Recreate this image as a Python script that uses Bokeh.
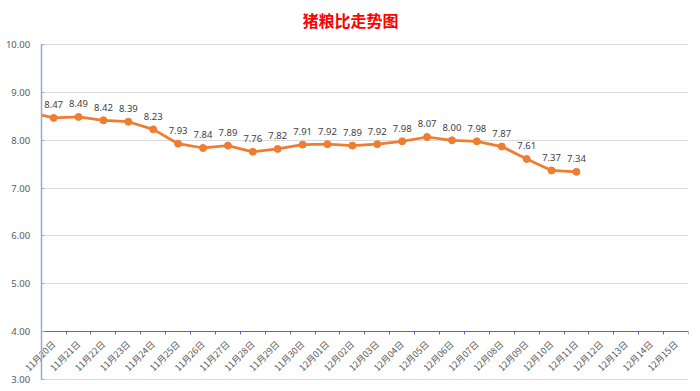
import math
from bokeh.plotting import figure
from bokeh.models import Range1d, FixedTicker, ColumnDataSource, BoxAnnotation
from bokeh.core.properties import value
from bokeh.embed import file_html
from bokeh.resources import INLINE

# ---- data ----
categories = ["11月20日", "11月21日", "11月22日", "11月23日", "11月24日", "11月25日",
              "11月26日", "11月27日", "11月28日", "11月29日", "11月30日", "12月01日",
              "12月02日", "12月03日", "12月04日", "12月05日", "12月06日", "12月07日",
              "12月08日", "12月09日", "12月10日", "12月11日", "12月12日", "12月13日",
              "12月14日", "12月15日"]
prev_value = 8.59   # 11月19日, outside the axis range (only the line segment shows)
ratios = [8.47, 8.49, 8.42, 8.39, 8.23, 7.93, 7.84, 7.89, 7.76, 7.82, 7.91,
          7.92, 7.89, 7.92, 7.98, 8.07, 8.00, 7.98, 7.87, 7.61, 7.37, 7.34]
y_ticks = [3, 4, 5, 6, 7, 8, 9, 10]
y_tick_labels = ["3.00", "4.00", "5.00", "6.00", "7.00", "8.00", "9.00", "10.00"]
x_axis_cross = 4
title_text = "猪粮比走势图"

n_cat = len(categories)
centers = [i + 0.5 for i in range(n_cat)]
boundaries = list(range(n_cat + 1))

line_x = [-0.5] + centers[:len(ratios)]
line_y = [prev_value] + ratios
pts = ColumnDataSource(dict(x=centers[:len(ratios)], y=ratios,
                            lbl=["%.2f" % v for v in ratios]))

# frame spans (almost) the full figure so labels outside the value range are not clipped
W, H = 700, 391
left_px, right_px = 40.7, 688.3
top_px, bottom_px = 44.3, 378.7
frame_top, frame_bottom = 36, 387
cat_px = (right_px - left_px) / n_cat
val_px = (bottom_px - top_px) / (y_ticks[-1] - y_ticks[0])
x_start = -left_px / cat_px
y_end = y_ticks[-1] + (top_px - frame_top) / val_px
y_start = y_ticks[0] - (frame_bottom - bottom_px) / val_px

p = figure(width=W, height=H, output_backend="svg", toolbar_location=None,
           x_range=Range1d(x_start, n_cat), y_range=Range1d(y_start, y_end),
           min_border_left=0, min_border_right=W - 688, min_border_top=frame_top,
           min_border_bottom=H - frame_bottom)
p.outline_line_color = None
p.background_fill_color = "white"
p.border_fill_color = "white"

p.title.text = title_text
p.title.align = "left"
p.title.offset = 302
p.title.standoff = 10
p.title.text_font = "Noto Sans CJK SC"
p.title.text_font_size = "16px"
p.title.text_font_style = "bold"
p.title.text_color = "#FF0000"

# y axis at category start
yax = p.yaxis[0]
yax.fixed_location = 0
yax.bounds = (y_ticks[0], y_ticks[-1])
yax.ticker = FixedTicker(ticks=y_ticks, minor_ticks=[])
yax.major_label_overrides = {t: l for t, l in zip(y_ticks, y_tick_labels)}
yax.axis_line_color = "#8FAADC"
yax.axis_line_width = 1.5
yax.major_tick_line_color = "#8FAADC"
yax.major_tick_in = 3
yax.major_tick_out = 0
yax.minor_tick_line_color = None
yax.major_label_text_font = "Noto Sans"
yax.major_label_text_font_size = "9.5px"
yax.major_label_text_color = "#595959"
yax.major_label_standoff = 11

# x axis crossing at 4.00
xax = p.xaxis[0]
xax.fixed_location = x_axis_cross
xax.bounds = (0, n_cat)
xax.ticker = FixedTicker(ticks=centers, minor_ticks=boundaries)
xax.major_label_overrides = {c: l for c, l in zip(centers, categories)}
xax.major_label_orientation = math.pi / 4
xax.major_label_text_font = "Noto Sans CJK SC"
xax.major_label_text_font_size = "9px"
xax.major_label_text_color = "#595959"
xax.major_label_standoff = 5
xax.axis_line_color = "#4472C4"
xax.axis_line_width = 1
xax.major_tick_line_color = None
xax.minor_tick_line_color = "#4472C4"
xax.minor_tick_in = 0
xax.minor_tick_out = 3

p.xgrid.grid_line_color = None
p.ygrid.ticker = FixedTicker(ticks=y_ticks)
p.ygrid.bounds = (0, n_cat)
p.ygrid.grid_line_color = "#D9D9D9"
p.ygrid.grid_line_width = 1

p.line(line_x, line_y, line_color="#ED7D31", line_width=2.75)
p.scatter("x", "y", source=pts, size=7, fill_color="#ED7D31", line_color="#ED7D31")
p.text("x", "y", text="lbl", source=pts, text_align="center", text_baseline="middle",
       y_offset=-13, text_font=value("Noto Sans"), text_font_size="9.5px",
       text_color="#404040")
# hide the part of the series left of the plot area
p.add_layout(BoxAnnotation(right=0, fill_color="white", fill_alpha=1.0,
                           line_color=None, level="glyph"))

open("out.html", "w").write(file_html(p, INLINE))
